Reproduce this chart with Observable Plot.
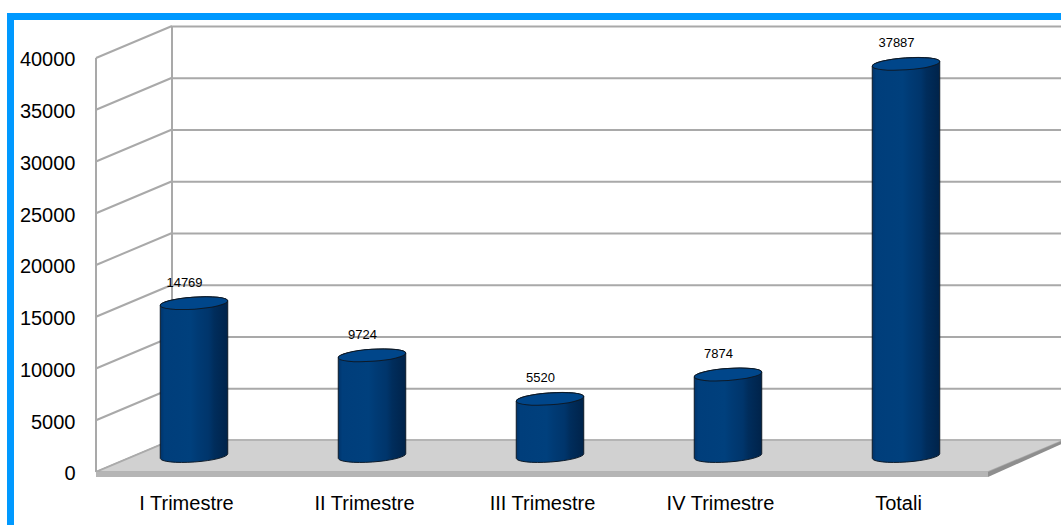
<!DOCTYPE html>
<html>
<head>
<meta charset="utf-8">
<script src="https://cdn.jsdelivr.net/npm/d3@7"></script>
<script src="https://cdn.jsdelivr.net/npm/@observablehq/plot@0.6"></script>
<style>
  html, body { margin: 0; padding: 0; background: #fff; }
  #wrap { position: relative; width: 1061px; height: 525px; overflow: hidden; }
  #edge {
    position: absolute; left: 7px; top: 13px; width: 1100px; height: 600px;
    border-top: 7px solid #0099ff; border-left: 7px solid #0099ff;
    pointer-events: none;
  }
</style>
</head>
<body>
<div id="wrap"><div id="edge"></div></div>
<script>
// Quarterly totals and the yearly sum
const categories = ["I Trimestre", "II Trimestre", "III Trimestre", "IV Trimestre", "Totali"];
const values = [14769, 9724, 5520, 7874, 37887];
const yTicks = [0, 5000, 10000, 15000, 20000, 25000, 30000, 35000, 40000];

const data = categories.map((c, i) => ({category: c, value: values[i]}));

// Pseudo-3D depth: the back wall sits up-right, the front edge down-left
const depthX = 38, depthY = 16;
const gridColor = "#a9a9a9";
const font = "'Liberation Sans', Arial, sans-serif";

// Left side wall: verticals at front and back plus one slanted line per tick
function sideWall(index, scales, values, dims) {
  const y = scales.y, L = dims.marginLeft;
  const g = d3.create("svg:g")
    .attr("stroke", gridColor).attr("stroke-width", 2).attr("fill", "none");
  const yMin = y(yTicks[0]), yMax = y(yTicks[yTicks.length - 1]);
  g.append("line")
    .attr("x1", L - depthX).attr("x2", L - depthX)
    .attr("y1", yMax + depthY).attr("y2", yMin + depthY);
  g.append("line")
    .attr("x1", L + depthX).attr("x2", L + depthX)
    .attr("y1", yMax - depthY).attr("y2", yMin - depthY);
  for (const t of yTicks) {
    g.append("line")
      .attr("x1", L - depthX).attr("y1", y(t) + depthY)
      .attr("x2", L + depthX).attr("y2", y(t) - depthY);
  }
  return g.node();
}

// Floor slab at value 0
function floor(index, scales, values, dims) {
  const y0 = scales.y(0);
  const L = dims.marginLeft, R = dims.width - dims.marginRight + 3, th = 5;
  const g = d3.create("svg:g");
  const fl = [L - depthX, y0 + depthY], bl = [L + depthX, y0 - depthY],
        br = [R + depthX, y0 - depthY], fr = [R - depthX, y0 + depthY];
  g.append("polygon")
    .attr("points", [fl, bl, br, fr].map(p => p.join(",")).join(" "))
    .attr("fill", "#d1d1d1").attr("stroke", "#ababab").attr("stroke-width", 1.5);
  g.append("polygon")
    .attr("points", [fl, fr, [fr[0], fr[1] + th], [fl[0], fl[1] + th]].map(p => p.join(",")).join(" "))
    .attr("fill", "#b5b5b5");
  g.append("polygon")
    .attr("points", [fr, br, [br[0], br[1] + 3], [fr[0], fr[1] + th]].map(p => p.join(",")).join(" "))
    .attr("fill", "#8e8e8e");
  return g.node();
}

// Cylinders, one per category, from the same values as the labels
function cylinders(index, scales) {
  const x = scales.x, y = scales.y;
  const bw = typeof x.bandwidth === "function" ? x.bandwidth() : 178.6;
  const rx = bw * 0.19, ry = 6, rot = -4;
  const a = rx * Math.cos(rot * Math.PI / 180), s = -rx * Math.sin(rot * Math.PI / 180);
  const g = d3.create("svg:g");
  const defs = g.append("defs");
  const grad = defs.append("linearGradient").attr("id", "cylBody")
    .attr("x1", 0).attr("x2", 1).attr("y1", 0).attr("y2", 0);
  [[0, "#00336a"], [0.06, "#003e7b"], [0.45, "#00407d"], [0.55, "#003b75"],
   [0.72, "#00356b"], [0.8, "#002d5c"], [1, "#00234a"]]
    .forEach(([o, c]) => grad.append("stop").attr("offset", o).attr("stop-color", c));
  for (const d of data) {
    const cx = x(d.category) + bw / 2, yT = y(d.value), yB = y(0);
    g.append("path")
      .attr("d", `M${cx - a},${yT + s} L${cx - a},${yB + s} ` +
                 `A${rx},${ry} ${rot} 0 0 ${cx + a},${yB - s} ` +
                 `L${cx + a},${yT - s} A${rx},${ry} ${rot} 0 0 ${cx - a},${yT + s} Z`)
      .attr("fill", "url(#cylBody)").attr("stroke", "#0d1a28").attr("stroke-width", 1);
    g.append("ellipse")
      .attr("cx", cx).attr("cy", yT).attr("rx", rx).attr("ry", ry)
      .attr("transform", `rotate(${rot} ${cx} ${yT})`)
      .attr("fill", "#00468a").attr("stroke", "#0d1a28").attr("stroke-width", 1);
  }
  return g.node();
}

const chart = Plot.plot({
  width: 1061,
  height: 525,
  marginLeft: 134,
  marginRight: 38,
  marginTop: 42,
  marginBottom: 69,
  x: {type: "band", domain: categories, range: [103, 996], padding: 0, axis: null},
  y: {domain: [0, 40000], axis: null},
  style: {fontFamily: font, background: "transparent", color: "#000"},
  marks: [
    Plot.ruleY(yTicks, {dx: depthX, dy: -depthY, stroke: gridColor, strokeWidth: 2, strokeOpacity: 1}),
    sideWall,
    floor,
    cylinders,
    Plot.text(data, {
      x: "category", y: "value", text: d => String(d.value),
      dx: -10, dy: -17, lineAnchor: "bottom", fontSize: 13, fill: "#000"
    }),
    Plot.text(yTicks, {
      y: d => d, text: d => String(d), frameAnchor: "left", textAnchor: "end",
      dx: -59, dy: 17.5, fontSize: 20, fill: "#000"
    }),
    Plot.text(categories, {
      x: d => d, text: d => d, frameAnchor: "bottom",
      dx: -8, dy: 53, fontSize: 20, fill: "#000"
    })
  ]
});

const wrap = document.getElementById("wrap");
chart.style.position = "absolute";
chart.style.left = "0";
chart.style.top = "0";
wrap.insertBefore(chart, wrap.firstChild);
</script>
</body>
</html>
